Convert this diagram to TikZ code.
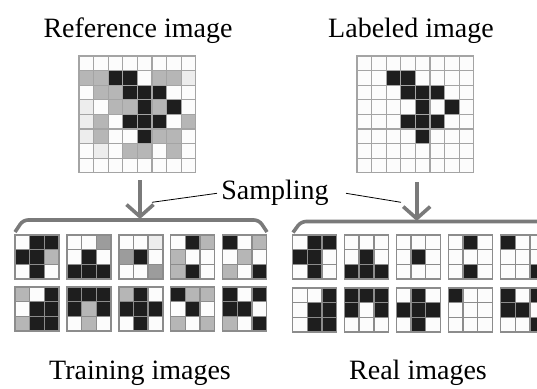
\documentclass[tikz,border=0pt]{standalone}
\usepackage{fontspec}
\setmainfont{Liberation Serif}
\newfontfamily\captionface{Liberation Serif}
\usetikzlibrary{arrows.meta}

\definecolor{cw}{HTML}{FCFCFC}
\definecolor{cl}{HTML}{EDEDED}
\definecolor{cg}{HTML}{B6B6B6}
\definecolor{cd}{HTML}{9C9C9C}
\definecolor{cb}{HTML}{1E1E1E}
\definecolor{gridline}{HTML}{A4A4A4}
\definecolor{patchline}{HTML}{8C8C8C}
\definecolor{flowgrey}{HTML}{7A7A7A}

\tikzset{
  bigcell/.style={draw=gridline, line width=1.3pt},
  patchcell/.style={draw=patchline, line width=1.4pt},
  caption/.style={font=\captionface\fontsize{28}{32}\selectfont, inner sep=0pt, anchor=base, text=black},
  flow/.style={draw=flowgrey, line width=3.6pt},
  flowarrow/.style={flow, -{Straight Barb[length=12pt,width=27pt]}},
  leader/.style={draw=black, line width=0.8pt},
}

% \pixgrid{left}{top}{cell size}{rows of colour names}{cell style}
\newcommand\pixgrid[5]{%
  \foreach \rowcells [count=\r from 0] in {#4} {
    \foreach \c [count=\k from 0] in \rowcells {
      \draw[#5, fill=\c] ({#1+\k*#3},{#2+\r*#3}) rectangle +(#3,#3);
    }
  }%
}

\begin{document}
\begin{tikzpicture}[x=1pt, y=-1pt]
\useasboundingbox (0,0) rectangle (537,388);
\clip (0,0) rectangle (537,388);

% titles
\node[caption] (reftitle) at (138,37.3) {Reference image};
\node[caption] (labtitle) at (411,37.3) {Labeled image};

% reference image (grey levels)
\pixgrid{79}{56}{14.6}{
  {cw,cw,cw,cw,cw,cw,cw,cw},
  {cg,cg,cb,cb,cw,cg,cg,cl},
  {cw,cg,cg,cb,cb,cb,cw,cw},
  {cl,cw,cg,cg,cb,cg,cb,cw},
  {cl,cg,cw,cb,cb,cb,cw,cg},
  {cl,cg,cw,cw,cb,cg,cg,cw},
  {cw,cl,cw,cg,cg,cw,cg,cw},
  {cw,cw,cw,cw,cw,cw,cw,cw}}{bigcell}

% labeled image (binary)
\pixgrid{357}{56}{14.6}{
  {cw,cw,cw,cw,cw,cw,cw,cw},
  {cw,cw,cb,cb,cw,cw,cw,cw},
  {cw,cw,cw,cb,cb,cb,cw,cw},
  {cw,cw,cw,cw,cb,cw,cb,cw},
  {cw,cw,cw,cb,cb,cb,cw,cw},
  {cw,cw,cw,cw,cb,cw,cw,cw},
  {cw,cw,cw,cw,cw,cw,cw,cw},
  {cw,cw,cw,cw,cw,cw,cw,cw}}{bigcell}

% sampling arrows and brackets
\coordinate (refout) at (140,180);
\coordinate (refin) at (140,219);
\coordinate (labout) at (416.7,182);
\coordinate (labin) at (416.7,221);
\draw[flowarrow] (refout) -- (refin);
\draw[flowarrow] (labout) -- (labin);

\draw[flow, rounded corners=5pt] (15,232) -- (23,220) -- (259,220) -- (267,232);
\draw[flow, rounded corners=5pt] (293,232.5) -- (301,221.5) -- (560,221.5);

\node[caption] (samp) at (275,199) {Sampling};
\coordinate (sampl) at (217,193.3);
\coordinate (sampr) at (346,193.3);
\coordinate (tickl) at (152,202.3);
\coordinate (tickr) at (401,202.3);
\draw[leader] (sampl) -- (tickl);
\draw[leader] (sampr) -- (tickr);

% training patches
\pixgrid{15}{235}{14.67}{{cw,cb,cb},{cb,cb,cg},{cw,cb,cw}}{patchcell}
\pixgrid{66.9}{235}{14.67}{{cw,cw,cd},{cw,cb,cw},{cb,cb,cb}}{patchcell}
\pixgrid{118.8}{235}{14.67}{{cw,cw,cl},{cd,cb,cw},{cw,cw,cd}}{patchcell}
\pixgrid{170.7}{235}{14.67}{{cw,cb,cg},{cg,cw,cw},{cg,cb,cw}}{patchcell}
\pixgrid{222.6}{235}{14.67}{{cb,cw,cg},{cw,cg,cw},{cg,cw,cb}}{patchcell}

\pixgrid{15}{287}{14.67}{{cg,cw,cb},{cw,cb,cb},{cg,cb,cb}}{patchcell}
\pixgrid{66.9}{287}{14.67}{{cb,cb,cb},{cb,cg,cb},{cw,cg,cw}}{patchcell}
\pixgrid{118.8}{287}{14.67}{{cg,cb,cw},{cb,cb,cb},{cw,cb,cw}}{patchcell}
\pixgrid{170.7}{287}{14.67}{{cb,cg,cg},{cw,cb,cw},{cg,cw,cg}}{patchcell}
\pixgrid{222.6}{287}{14.67}{{cb,cw,cb},{cb,cb,cw},{cg,cw,cb}}{patchcell}

% real patches
\pixgrid{292.7}{235}{14.67}{{cw,cb,cb},{cb,cb,cw},{cw,cb,cw}}{patchcell}
\pixgrid{344.5}{235}{14.67}{{cw,cw,cw},{cw,cb,cw},{cb,cb,cb}}{patchcell}
\pixgrid{396.4}{235}{14.67}{{cw,cw,cw},{cw,cb,cw},{cw,cw,cw}}{patchcell}
\pixgrid{448.3}{235}{14.67}{{cw,cb,cw},{cw,cw,cw},{cw,cb,cw}}{patchcell}
\pixgrid{500.7}{235}{14.67}{{cb,cw,cw},{cw,cw,cw},{cw,cw,cb}}{patchcell}

\pixgrid{292.7}{288}{14.67}{{cw,cw,cb},{cw,cb,cb},{cw,cb,cb}}{patchcell}
\pixgrid{344.5}{288}{14.67}{{cb,cb,cb},{cb,cw,cb},{cw,cw,cw}}{patchcell}
\pixgrid{396.4}{288}{14.67}{{cw,cb,cw},{cb,cb,cb},{cw,cb,cw}}{patchcell}
\pixgrid{448.3}{288}{14.67}{{cb,cw,cw},{cw,cw,cw},{cw,cw,cw}}{patchcell}
\pixgrid{500.7}{288}{14.67}{{cb,cw,cb},{cb,cb,cw},{cw,cw,cb}}{patchcell}

% captions
\node[caption] (traincap) at (140,379) {Training images};
\node[caption] (realcap) at (418,379) {Real images};
\end{tikzpicture}
\end{document}
